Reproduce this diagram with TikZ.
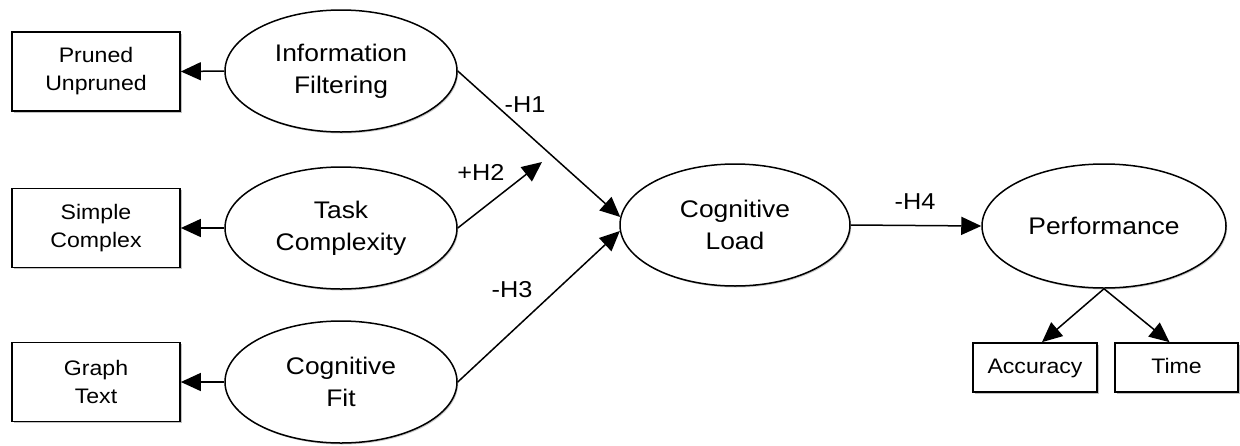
\documentclass[tikz,border=0pt]{standalone}
\usepackage{fontspec}
\setmainfont[FakeStretch=1.1]{Liberation Sans}
\usetikzlibrary{shapes.geometric,arrows.meta,shadows}
\begin{document}
\begin{tikzpicture}[x=1pt,y=-1pt,
  construct/.style={ellipse,draw,line width=1.5pt,minimum width=232pt,minimum height=122pt,
    inner sep=0pt,align=center,fill=white,font=\fontsize{24}{32}\selectfont,
    drop shadow={shadow xshift=1.2pt,shadow yshift=-1.5pt,fill=black!35,opacity=0.6}},
  measure/.style={rectangle,draw,line width=1.7pt,inner sep=0pt,align=center,fill=white,
    font=\fontsize{21}{28}\selectfont,
    drop shadow={shadow xshift=1.5pt,shadow yshift=-1.5pt,fill=black!40,opacity=0.6}},
  hyp/.style={font=\fontsize{23}{28}\selectfont},
  link/.style={line width=1.5pt,-{Triangle[length=20pt,width=18pt]}}]
\useasboundingbox (0,0) rectangle (1240,445);

% constructs
\node[construct] (filt) at (341,71)  {Information\\Filtering};
\node[construct] (task) at (341,228) {Task\\Complexity};
\node[construct] (fit)  at (341,382) {Cognitive\\Fit};
\node[construct,minimum width=230pt] (load) at (735,225) {Cognitive\\Load};
\node[construct,minimum width=244pt,minimum height=124pt] (perf) at (1104,226) {Performance};

% manipulations and measures
\node[measure,minimum width=168pt,minimum height=79pt] (prun) at (96,71.5) {Pruned\\Unpruned};
\node[measure,minimum width=168pt,minimum height=79pt] (simp) at (96,228) {Simple\\Complex};
\node[measure,minimum width=168pt,minimum height=79pt] (grap) at (96,382) {Graph\\Text};
\node[measure,minimum width=124pt,minimum height=49pt] (acc) at (1035,367.5) {Accuracy\strut};
\node[measure,minimum width=123pt,minimum height=49pt] (time) at (1176.5,367.5) {Time\strut};

% operationalisation arrows
\draw[link] (filt.west) -- (prun.east);
\draw[link] (task.west) -- (simp.east);
\draw[link] (fit.west) -- (grap.east);
\draw[link] (perf.south) -- ([xshift=7pt]acc.north);
\draw[link] (perf.south) -- ([xshift=-7pt]time.north);

% hypotheses
\coordinate (mod) at (542,162);
\draw[link] (filt.east) -- (load.176.6);
\draw[link] (task.east) -- (mod);
\draw[link] (fit.east) -- (load.183.4);
\draw[link] (load.east) -- (perf.west);

\node[hyp] (h1) at (525,105) {-H1};
\node[hyp] (h2) at (481,172) {+H2};
\node[hyp] (h3) at (512,290) {-H3};
\node[hyp] (h4) at (915,202) {-H4};
\end{tikzpicture}
\end{document}
